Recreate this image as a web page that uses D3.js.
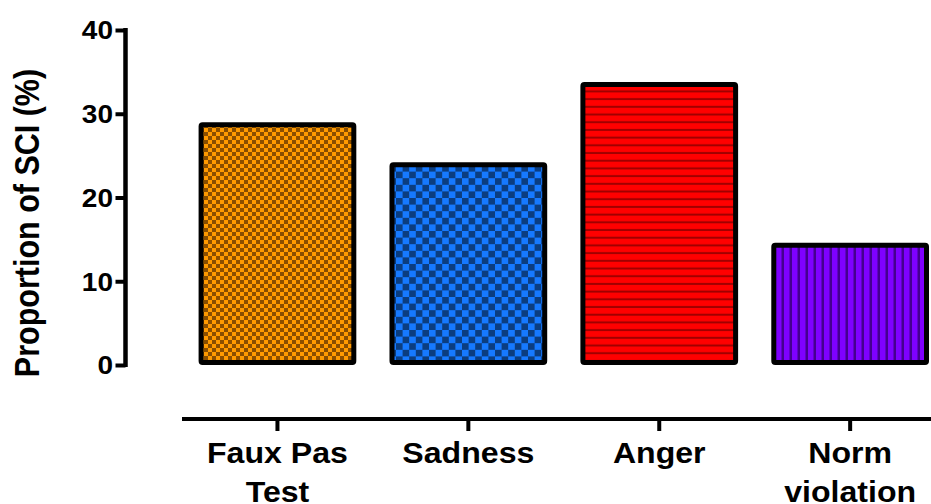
<!DOCTYPE html>
<html>
<head>
<meta charset="utf-8">
<script src="https://cdn.jsdelivr.net/npm/d3@7"></script>
<style>
  html, body { margin: 0; padding: 0; background: #fff; }
  svg { display: block; }
  text { font-family: "Liberation Sans", Arial, Helvetica, sans-serif; font-weight: bold; fill: #000; }
</style>
</head>
<body>
<script>
// Data
const categories = ["Faux Pas Test", "Sadness", "Anger", "Norm violation"];
const categoryLines = [["Faux Pas", "Test"], ["Sadness"], ["Anger"], ["Norm", "violation"]];
const values = [28.7, 23.9, 33.5, 14.3];
const yTicks = [0, 10, 20, 30, 40];
const yLabel = "Proportion of SCI (%)";

const W = 931, H = 504;
const svg = d3.select("body").append("svg").attr("width", W).attr("height", H);

// Fill patterns for each bar
const defs = svg.append("defs");
function checker(id, size, light, dark) {
  const p = defs.append("pattern").attr("id", id).attr("patternUnits", "userSpaceOnUse")
    .attr("width", size * 2).attr("height", size * 2);
  p.append("rect").attr("width", size * 2).attr("height", size * 2).attr("fill", light);
  p.append("rect").attr("width", size).attr("height", size).attr("fill", dark);
  p.append("rect").attr("x", size).attr("y", size).attr("width", size).attr("height", size).attr("fill", dark);
}
function stripes(id, gap, thick, light, dark, vertical) {
  const p = defs.append("pattern").attr("id", id).attr("patternUnits", "userSpaceOnUse")
    .attr("width", vertical ? gap : 10).attr("height", vertical ? 10 : gap);
  p.append("rect").attr("width", vertical ? gap : 10).attr("height", vertical ? 10 : gap).attr("fill", light);
  if (vertical) p.append("rect").attr("x", gap - thick).attr("width", thick).attr("height", 10).attr("fill", dark);
  else p.append("rect").attr("y", gap - thick).attr("height", thick).attr("width", 10).attr("fill", dark);
}
checker("pOrange", 4, "#ff9a00", "#8a4e00");
checker("pBlue", 6.6, "#1679ff", "#0b3d80");
stripes("pRed", 7.7, 2, "#ff0000", "#a00000", false);
stripes("pPurple", 8, 2.5, "#7f00ff", "#45008f", true);
const fills = ["url(#pOrange)", "url(#pBlue)", "url(#pRed)", "url(#pPurple)"];

// Scales
const y = d3.scaleLinear().domain([0, 40]).range([365, 30]);
const x = d3.scaleBand().domain(categories).range([182, 945.6]).paddingInner(0.2).paddingOuter(0.1);

// Bars
svg.append("g").selectAll("rect").data(values).join("rect")
  .attr("x", (d, i) => x(categories[i]))
  .attr("width", x.bandwidth())
  .attr("y", d => y(d))
  .attr("height", d => y(0) - 2.5 - y(d))
  .attr("fill", (d, i) => fills[i])
  .attr("stroke", "#000")
  .attr("stroke-width", 5)
  .attr("stroke-linejoin", "round")
  .attr("rx", 1.5);

// Y axis
const yAxis = svg.append("g").attr("transform", "translate(125.5,0)")
  .call(d3.axisLeft(y).tickValues(yTicks).tickSize(10).tickPadding(4).tickFormat(d3.format("d")));
yAxis.select(".domain").attr("d", `M0,${y(40) - 2}V${y(0) + 2}`).attr("stroke", "#000").attr("stroke-width", 4.5);
yAxis.selectAll(".tick line").attr("stroke", "#000").attr("stroke-width", 4);
yAxis.selectAll(".tick text")
  .attr("font-size", 25).attr("font-family", null).attr("dy", "0.35em").attr("x", 0)
  .attr("transform", "translate(-12.5,0) scale(1.12,1)");

// X axis
const xAxis = svg.append("g").attr("transform", "translate(0,419)")
  .call(d3.axisBottom(x).tickSize(12).tickFormat(""));
xAxis.select(".domain").attr("d", "M182,0H945.6").attr("stroke", "#000").attr("stroke-width", 4);
xAxis.selectAll(".tick line").attr("stroke", "#000").attr("stroke-width", 4);

// Category labels, two lines where needed
const labelG = svg.append("g");
categories.forEach((c, i) => {
  const cx = x(c) + x.bandwidth() / 2;
  const t = labelG.append("text")
    .attr("transform", `translate(${cx},462.5) scale(1.07,1)`)
    .attr("text-anchor", "middle")
    .attr("font-size", 30);
  categoryLines[i].forEach((line, j) => {
    t.append("tspan").attr("x", 0).attr("y", j * 40).text(line);
  });
});

// Y axis title
svg.append("text")
  .attr("transform", "translate(38.5,223) scale(1.15,1) rotate(-90)")
  .attr("text-anchor", "middle")
  .attr("font-size", 30.5)
  .text(yLabel);
</script>
</body>
</html>
